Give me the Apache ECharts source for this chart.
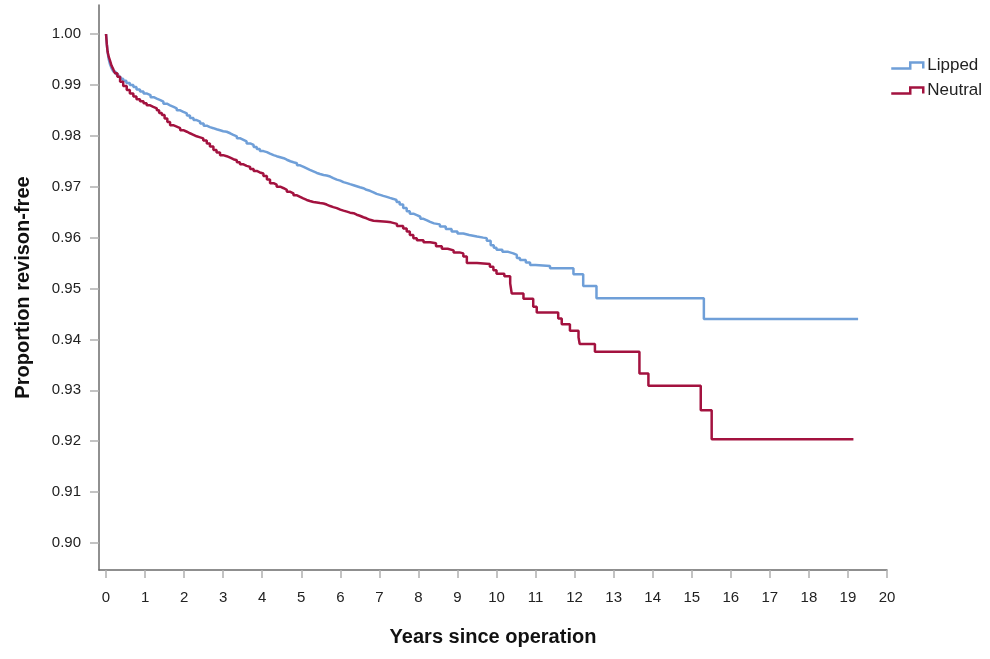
<!DOCTYPE html>
<html>
<head>
    <meta charset="utf-8">
    <title>Revision-free survival</title>
    <script src="https://cdn.jsdelivr.net/npm/echarts@6/dist/echarts.min.js"></script>
    <style>
        html, body { margin: 0; padding: 0; background: #fff; }
        #chart { width: 990px; height: 659px; }
    </style>
</head>
<body>
<div id="chart"></div>
<script>
    // tick labels
    var xTicks = [0, 1, 2, 3, 4, 5, 6, 7, 8, 9, 10, 11, 12, 13, 14, 15, 16, 17, 18, 19, 20];
    var yTicks = [0.90, 0.91, 0.92, 0.93, 0.94, 0.95, 0.96, 0.97, 0.98, 0.99, 1.00];

    // Kaplan-Meier steps: [years, proportion]
    var lipped = [
        [0, 1.0], [0.02, 0.998], [0.04, 0.9965], [0.07, 0.995], [0.1, 0.9941], [0.14, 0.9933],
        [0.19, 0.9926], [0.25, 0.9921], [0.31, 0.9916], [0.37, 0.9912], [0.44, 0.9908], [0.52, 0.9904],
        [0.61, 0.99], [0.7, 0.9896], [0.78, 0.9891], [0.87, 0.9887], [0.96, 0.9883], [1.05, 0.988],
        [1.14, 0.9876], [1.22, 0.9873], [1.3, 0.987], [1.39, 0.9867], [1.47, 0.9863], [1.56, 0.986],
        [1.64, 0.9857], [1.73, 0.9854], [1.81, 0.985], [1.9, 0.9847], [1.98, 0.9844], [2.07, 0.984],
        [2.15, 0.9835], [2.24, 0.9831], [2.32, 0.9828], [2.41, 0.9824], [2.5, 0.982], [2.58, 0.9817],
        [2.66, 0.9815], [2.75, 0.9813], [2.83, 0.9811], [2.92, 0.9809], [3.0, 0.9808], [3.09, 0.9805],
        [3.18, 0.9802], [3.26, 0.9799], [3.35, 0.9795], [3.44, 0.9792], [3.52, 0.9789], [3.6, 0.9785],
        [3.69, 0.9782], [3.78, 0.9778], [3.86, 0.9774], [3.94, 0.977], [4.03, 0.9768], [4.12, 0.9765],
        [4.2, 0.9762], [4.29, 0.976], [4.37, 0.9758], [4.46, 0.9756], [4.55, 0.9753], [4.63, 0.975],
        [4.72, 0.9748], [4.8, 0.9746], [4.89, 0.9742], [4.97, 0.9739], [5.06, 0.9736], [5.14, 0.9733],
        [5.22, 0.973], [5.31, 0.9727], [5.4, 0.9725], [5.48, 0.9723], [5.57, 0.9722], [5.65, 0.972],
        [5.74, 0.9717], [5.82, 0.9714], [5.91, 0.9712], [6.0, 0.9709], [6.08, 0.9707], [6.17, 0.9705],
        [6.25, 0.9703], [6.34, 0.9701], [6.42, 0.9699], [6.5, 0.9697], [6.59, 0.9694], [6.67, 0.9692],
        [6.76, 0.9689], [6.85, 0.9686], [6.93, 0.9684], [7.02, 0.9682], [7.1, 0.968], [7.19, 0.9678],
        [7.27, 0.9676], [7.36, 0.9674], [7.44, 0.967], [7.52, 0.9665], [7.61, 0.9658], [7.7, 0.9652],
        [7.78, 0.9647], [7.87, 0.9644], [7.96, 0.9641], [8.05, 0.9637], [8.13, 0.9634], [8.22, 0.9631],
        [8.3, 0.9628], [8.4, 0.9626], [8.55, 0.9622], [8.7, 0.9617], [8.85, 0.9612], [9.0, 0.9608],
        [9.15, 0.9605], [9.3, 0.9602], [9.5, 0.96], [9.66, 0.9599], [9.75, 0.9594], [9.85, 0.9585],
        [9.93, 0.958], [10.0, 0.9576], [10.15, 0.9572], [10.3, 0.9569], [10.43, 0.9566], [10.52, 0.956],
        [10.6, 0.9556], [10.75, 0.9551], [10.86, 0.9546], [11.0, 0.9544], [11.37, 0.954], [11.97, 0.9528],
        [12.22, 0.9505], [12.56, 0.9481], [15.31, 0.944], [19.26, 0.944]
    ];
    var neutral = [
        [0, 1.0], [0.02, 0.998], [0.04, 0.9965], [0.07, 0.9955], [0.1, 0.9948], [0.14, 0.9938],
        [0.19, 0.993], [0.23, 0.9923], [0.29, 0.9916], [0.36, 0.9906], [0.44, 0.9898], [0.53, 0.989],
        [0.61, 0.9883], [0.7, 0.9877], [0.78, 0.9872], [0.87, 0.9868], [0.96, 0.9864], [1.04, 0.986],
        [1.13, 0.9857], [1.21, 0.9854], [1.3, 0.985], [1.36, 0.9845], [1.43, 0.9841], [1.5, 0.9834],
        [1.57, 0.9827], [1.64, 0.9821], [1.72, 0.9818], [1.81, 0.9815], [1.9, 0.9811], [1.98, 0.9808],
        [2.07, 0.9805], [2.15, 0.9802], [2.24, 0.9799], [2.32, 0.9797], [2.41, 0.9795], [2.49, 0.9791],
        [2.58, 0.9785], [2.66, 0.9779], [2.75, 0.9772], [2.83, 0.9767], [2.92, 0.9762], [3.0, 0.976],
        [3.09, 0.9757], [3.18, 0.9754], [3.26, 0.9752], [3.35, 0.9748], [3.43, 0.9744], [3.52, 0.9741],
        [3.6, 0.9739], [3.69, 0.9735], [3.78, 0.9731], [3.86, 0.9728], [3.94, 0.9726], [4.03, 0.9721],
        [4.12, 0.9714], [4.2, 0.9707], [4.29, 0.9704], [4.37, 0.97], [4.46, 0.9697], [4.55, 0.9694],
        [4.63, 0.969], [4.72, 0.9687], [4.8, 0.9683], [4.89, 0.968], [4.97, 0.9677], [5.05, 0.9674],
        [5.14, 0.9672], [5.22, 0.967], [5.31, 0.9669], [5.4, 0.9668], [5.48, 0.9667], [5.57, 0.9665],
        [5.65, 0.9662], [5.74, 0.966], [5.82, 0.9658], [5.91, 0.9655], [6.0, 0.9653], [6.08, 0.9651],
        [6.17, 0.9649], [6.25, 0.9648], [6.34, 0.9645], [6.42, 0.9643], [6.5, 0.964], [6.59, 0.9638],
        [6.67, 0.9635], [6.76, 0.9633], [6.85, 0.9631], [7.19, 0.963], [7.3, 0.9627], [7.45, 0.9623],
        [7.61, 0.9618], [7.7, 0.9612], [7.78, 0.9605], [7.87, 0.9599], [7.96, 0.9595], [8.13, 0.9591],
        [8.3, 0.9589], [8.45, 0.9583], [8.6, 0.9578], [8.75, 0.9575], [8.9, 0.9571], [9.05, 0.9569],
        [9.15, 0.9563], [9.24, 0.955], [9.5, 0.9548], [9.83, 0.9543], [9.92, 0.9536], [10.0, 0.9529],
        [10.2, 0.9524], [10.35, 0.951], [10.39, 0.949], [10.69, 0.948], [10.94, 0.9464], [11.03, 0.9453],
        [11.58, 0.9441], [11.67, 0.943], [11.88, 0.9417], [12.1, 0.9404], [12.13, 0.9391], [12.52, 0.9376],
        [13.66, 0.9333], [13.89, 0.9309], [15.23, 0.9261], [15.51, 0.9204], [19.14, 0.9204]
    ];

    var blue = '#6f9fd8', red = '#a3123f';
    var font = 'Liberation Sans, Arial, sans-serif';

    var chart = echarts.init(document.getElementById('chart'));
    var option = {
        backgroundColor: '#fff',
        animation: false,
        grid: { left: 99, right: 103, top: 5, bottom: 89 },
        legend: {
            orient: 'vertical',
            left: 885,
            top: 52,
            itemWidth: 32,
            itemHeight: 6,
            itemGap: 8,
            icon: 'path://M0,6 L19,6 L19,0 L32,0 L32,6',
            textStyle: { fontFamily: font, fontSize: 17, color: '#222', padding: [0, 0, 0, -1] },
            data: [
                { name: 'Lipped', itemStyle: { color: 'rgba(0,0,0,0)', borderColor: blue, borderWidth: 2.5 } },
                { name: 'Neutral', itemStyle: { color: 'rgba(0,0,0,0)', borderColor: red, borderWidth: 2.5 } }
            ]
        },
        xAxis: {
            type: 'value',
            min: -0.18,
            max: 20,
            name: 'Years since operation',
            nameLocation: 'middle',
            nameGap: 57,
            nameTextStyle: { fontFamily: font, fontSize: 20, fontWeight: 'bold', color: '#111' },
            splitLine: { show: false },
            axisLine: { onZero: false, lineStyle: { color: '#6b6b6b', width: 1.5 } },
            axisTick: { customValues: xTicks, length: 8, lineStyle: { color: '#b0b0b0', width: 1.5 } },
            axisLabel: { customValues: xTicks, margin: 20, fontFamily: font, fontSize: 15, color: '#222' }
        },
        yAxis: {
            type: 'value',
            min: 0.8947,
            max: 1.0057,
            name: 'Proportion revison-free',
            nameLocation: 'middle',
            nameGap: 66,
            nameTextStyle: { fontFamily: font, fontSize: 20, fontWeight: 'bold', color: '#111' },
            splitLine: { show: false },
            axisLine: { show: true, onZero: false, lineStyle: { color: '#6b6b6b', width: 1.5 } },
            axisTick: { show: true, customValues: yTicks, length: 9, lineStyle: { color: '#b0b0b0', width: 1.5 } },
            axisLabel: {
                customValues: yTicks, margin: 18, fontFamily: font, fontSize: 15, color: '#222',
                formatter: function (v) { return v.toFixed(2); }
            }
        },
        series: [
            {
                name: 'Lipped', type: 'line', step: 'end', data: lipped,
                showSymbol: false, symbol: 'none',
                lineStyle: { color: blue, width: 2.5 }, itemStyle: { color: blue }
            },
            {
                name: 'Neutral', type: 'line', step: 'end', data: neutral,
                showSymbol: false, symbol: 'none',
                lineStyle: { color: red, width: 2.5 }, itemStyle: { color: red }
            }
        ]
    };
    chart.setOption(option);

    window.onresize = function () {
        chart.resize();
    };
</script>
</body>
</html>
